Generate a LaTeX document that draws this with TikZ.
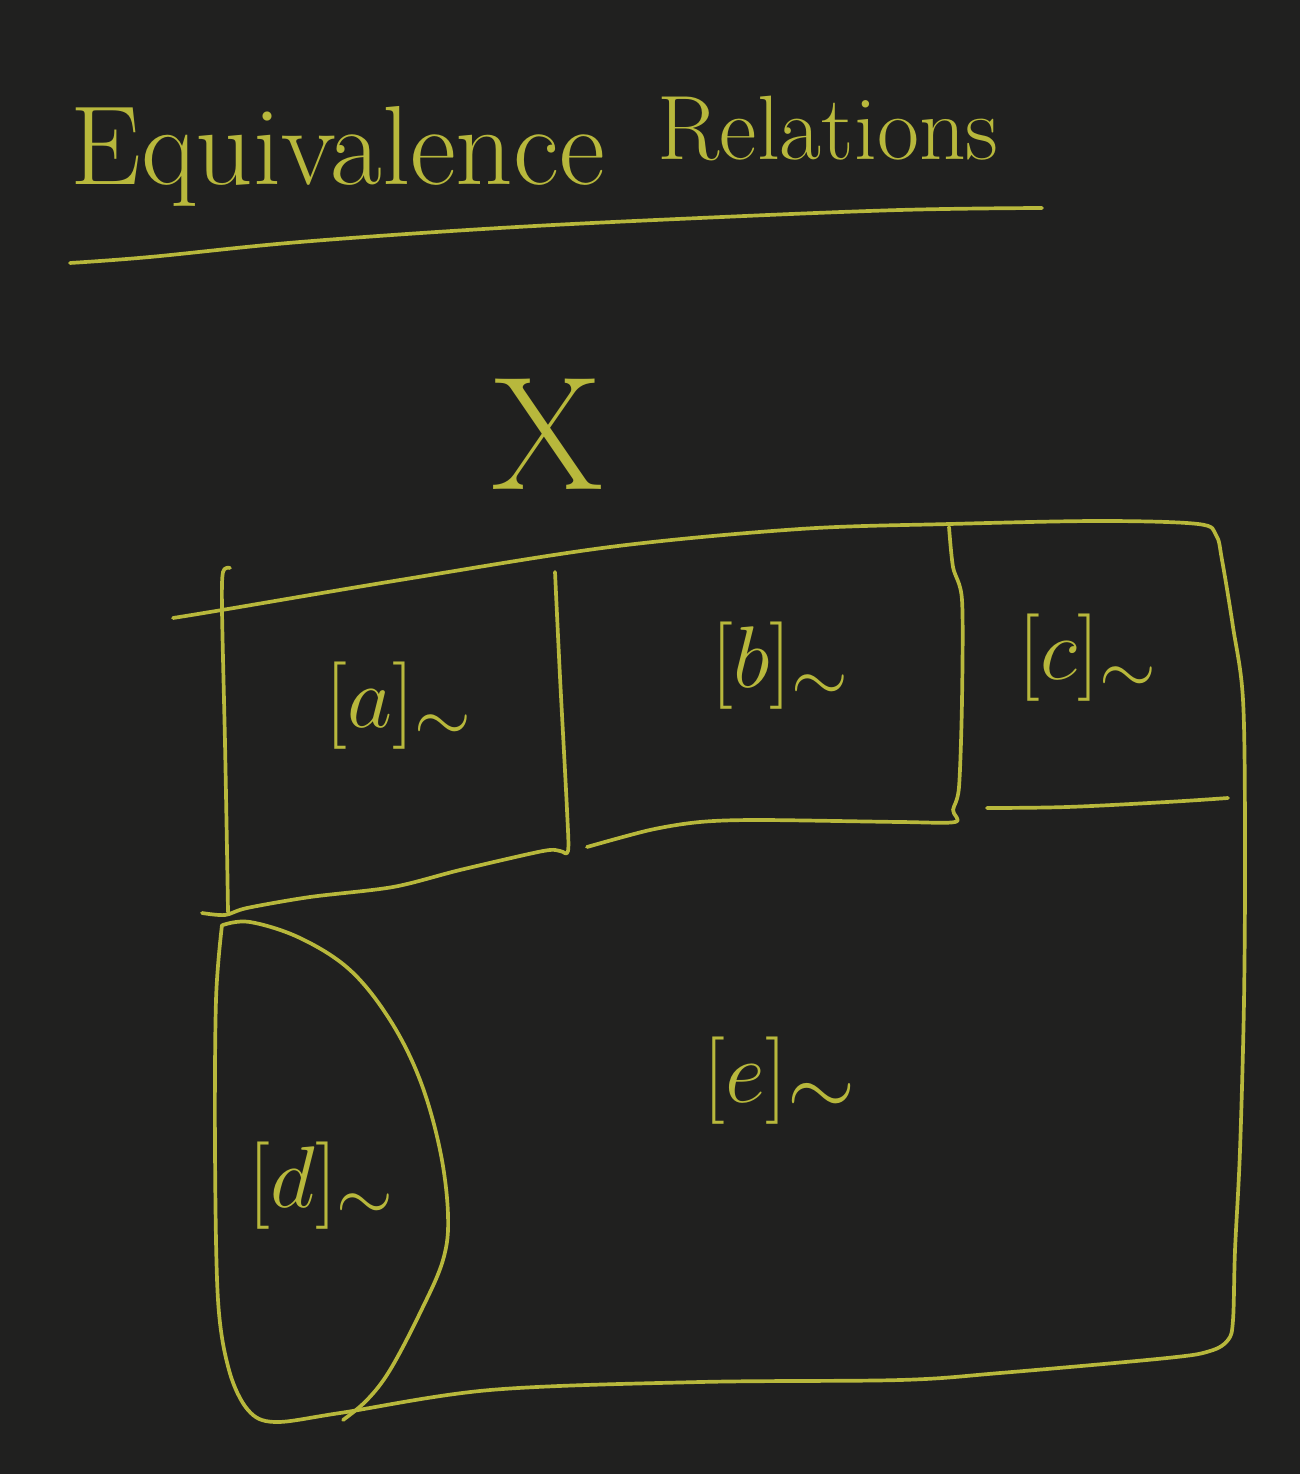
\documentclass[tikz,border=0pt]{standalone}
\usepackage{amsmath}
\definecolor{bg}{RGB}{32,32,31}
\definecolor{ink}{RGB}{184,184,60}
\tikzset{
  stroke/.style={draw=ink, line width=1.05pt, line cap=round, line join=round},
  lbl/.style={text=ink, inner sep=0pt, anchor=base west},
}
\begin{document}
\begin{tikzpicture}[x=0.01cm,y=-0.01cm]
\path[use as bounding box, fill=bg] (0,0) rectangle (1300,1474);

% title
\node[lbl, font=\fontsize{32}{36}\selectfont] (t1) at (70,185) {Equivalence};
\node[lbl, font=\fontsize{26}{30}\selectfont] (t2) at (657,160) {Relations};
\draw[stroke] plot[smooth, tension=0.6] coordinates {(70,263) (150,257) (300,242) (500,228) (700,218) (900,210) (1042,208)};

% set name
\node[text=ink, inner sep=0pt, font=\fontsize{46}{50}\selectfont] (X) at (548,434) {X};

% outer boundary
\draw[stroke] plot[smooth, tension=0.55] coordinates {
  (173,618) (222,610) (400,580) (610,547) (800,529) (950,524) (1100,521)
  (1198,524) (1216,535) (1222,560) (1233,627) (1243,700) (1245,840)
  (1244,1000) (1240,1150) (1235,1250) (1233,1320) (1228,1340) (1210,1351)
  (1167,1358) (1000,1373) (900,1380) (700,1382) (490,1390) (340,1413)
  (275,1422) (248,1410) (229,1370) (218,1300) (215,1150) (216,1000) (222,925)};

% left vertical of upper row
\draw[stroke] plot[smooth, tension=0.5] coordinates {(230,568) (223,572) (222,610) (225,743) (227,850) (228,912)};

% [a] right side and bottom
\draw[stroke] plot[smooth, tension=0.5] coordinates {
  (555,572) (560,677) (567,810) (568,851) (560,851) (543,851) (460,870)
  (393,887) (310,897) (247,908) (225,915) (202,913)};

% [b] right side and bottom
\draw[stroke] plot[smooth, tension=0.5] coordinates {
  (949,527) (953,567) (962,600) (962,700) (959,787) (953,810) (955,822)
  (900,822) (760,820) (700,822) (650,830) (587,847)};

% [c] bottom
\draw[stroke] plot[smooth, tension=0.6] coordinates {(987,808) (1067,807) (1167,802) (1228,798)};

% [d] boundary
\draw[stroke] plot[smooth, tension=0.6] coordinates {
  (223,925) (250,922) (300,938) (350,970) (390,1020) (420,1080) (440,1150)
  (448,1215) (443,1260) (420,1313) (390,1370) (367,1400) (343,1420)};

% class labels
\node[lbl, font=\fontsize{30}{34}\selectfont] (a) at (325,728) {$[a]_{\sim}$};
\node[lbl, font=\fontsize{29}{34}\selectfont] (b) at (711,688) {$[b]_{\sim}$};
\node[lbl, font=\fontsize{29}{34}\selectfont] (c) at (1018,680) {$[c]_{\sim}$};
\node[lbl, font=\fontsize{29}{34}\selectfont] (d) at (248,1207) {$[d]_{\sim}$};
\node[lbl, font=\fontsize{48}{52}\selectfont] (e) at (703,1102) {$[e]_{\sim}$};
\end{tikzpicture}
\end{document}
